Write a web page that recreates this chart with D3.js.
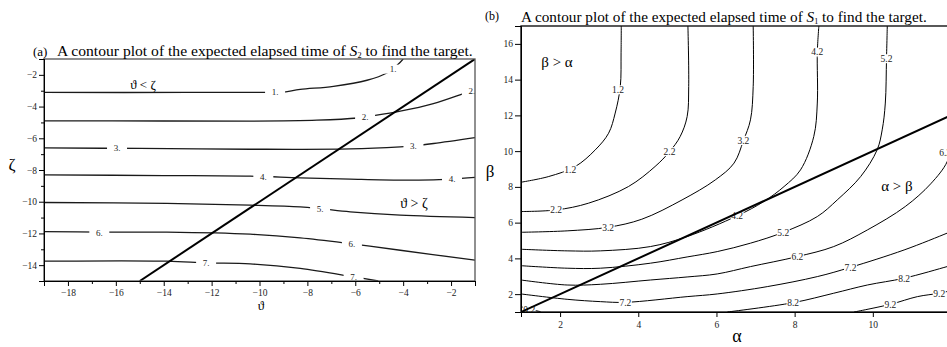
<!DOCTYPE html>
<html>
<head>
<meta charset="utf-8">
<script src="https://cdn.jsdelivr.net/npm/d3@7"></script>
<style>
  body { margin: 0; background: #fff; }
  svg { font-family: "Liberation Serif", "Times New Roman", serif; }
</style>
</head>
<body>
<div id="chart"></div>
<script>
// ---- panel (a): theta / zeta, contour levels of S2 ----
const aLevels = ['1.', '2.', '3.', '4.', '5.', '6.', '7.'];
const aLine1 = [[-19, -3.11], [-13, -3.11], [-9.69, -3.10], [-9.07, -3.09], [-8.30, -2.92], [-6.91, -2.72], [-5.51, -2.34], [-4.68, -1.88], [-4.21, -1.33], [-4.0, -1.0]];
const aLine2 = [[-19, -4.90], [-14, -4.91], [-10.39, -4.92], [-7.60, -4.86], [-5.90, -4.72], [-5.25, -4.58], [-4.12, -4.29], [-2.74, -3.81], [-1.49, -3.18], [-1.0, -2.92]];
const aLine3 = [[-19, -6.61], [-15, -6.64], [-10.39, -6.69], [-6.21, -6.67], [-4.12, -6.54], [-3.57, -6.48], [-2.73, -6.33], [-1.0, -5.96]];
const aLine4 = [[-19, -8.31], [-14, -8.35], [-10.39, -8.39], [-8.30, -8.50], [-6.21, -8.58], [-4.12, -8.64], [-2.73, -8.62], [-1.96, -8.58], [-1.0, -8.47]];
const aLine5 = [[-19, -10.05], [-13.87, -10.11], [-10.39, -10.22], [-8.30, -10.33], [-7.47, -10.44], [-6.21, -10.64], [-4.12, -10.85], [-1.0, -11.0]];
const aLine6 = [[-19, -11.88], [-16.69, -11.92], [-13.87, -11.92], [-10.39, -12.05], [-8.30, -12.28], [-6.14, -12.66], [-4.12, -13.06], [-1.0, -13.69]];
const aLine7 = [[-19, -13.75], [-13.87, -13.75], [-12.23, -13.86], [-10.39, -13.92], [-8.30, -14.21], [-6.07, -14.74], [-5.04, -15.0]];
const aLines = [aLine1, aLine2, aLine3, aLine4, aLine5, aLine6, aLine7];
// [level index, theta, zeta]
const aLabels = [[0, -9.35, -3.10], [0, -4.42, -1.64], [1, -5.59, -4.67], [1, -1.13, -3.01],
  [2, -15.95, -6.62], [2, -3.57, -6.48], [3, -9.84, -8.43], [3, -1.96, -8.58],
  [4, -7.47, -10.44], [5, -16.69, -11.96], [5, -6.14, -12.66], [6, -12.23, -13.86], [6, -6.07, -14.74]];
const aXTicks = [-18, -16, -14, -12, -10, -8, -6, -4, -2];
const aXMinor = [-19, -17, -15, -13, -11, -9, -7, -5, -3, -1];
const aYTicks = [-2, -4, -6, -8, -10, -12, -14];
const aYMinor = [-1, -3, -5, -7, -9, -11, -13, -15];
const aDiagonal = [[-15, -15], [-1, -1]];

// ---- panel (b): alpha / beta, contour levels of S1 ----
const bLevels = ['1.2', '2.2', '3.2', '4.2', '5.2', '6.2', '7.2', '8.2', '9.2', '0.2'];
const bLine1 = [[3.565, 17], [3.56, 15.5], [3.54, 13.61], [3.41, 12.13], [3.24, 11.0], [2.90, 10.07], [2.39, 9.14], [1.71, 8.58], [1.0, 8.26]];
const bLine2 = [[5.27, 17], [5.29, 13.61], [5.25, 11.93], [5.07, 10.81], [4.80, 9.97], [4.43, 9.14], [3.75, 8.02], [2.73, 7.09], [1.90, 6.71], [1.0, 6.62]];
const bLine3 = [[6.94, 17], [6.94, 13.61], [6.87, 11.75], [6.69, 10.59], [6.45, 9.33], [5.97, 8.39], [5.12, 7.27], [4.09, 6.19], [3.23, 5.74], [2.18, 5.54], [1.0, 5.46]];
const bLine4 = [[8.62, 17], [8.58, 15.54], [8.58, 12.69], [8.49, 10.82], [8.15, 8.95], [7.73, 8.02], [7.21, 7.18], [6.53, 6.38], [5.25, 5.22], [4.31, 4.66], [3.03, 4.42], [2.18, 4.42], [1.0, 4.51]];
const bLine5 = [[10.37, 17], [10.35, 15.17], [10.32, 12.69], [10.24, 11.19], [10.11, 10.07], [9.69, 8.58], [9.09, 7.27], [8.58, 6.34], [7.71, 5.46], [6.87, 4.85], [6.02, 4.38], [5.25, 4.08], [4.31, 3.73], [3.03, 3.45], [2.18, 3.45], [1.0, 3.59]];
const bLine6 = [[12.0, 10.4], [11.90, 9.40], [11.48, 8.17], [10.83, 6.90], [9.86, 5.59], [9.0, 4.66], [8.07, 4.10], [6.87, 3.54], [6.02, 3.13], [5.25, 2.96], [4.31, 2.79], [3.03, 2.55], [2.18, 2.51], [1.0, 2.79]];
const bLine7 = [[12.0, 5.5], [11.90, 5.41], [10.80, 4.47], [9.43, 3.50], [8.58, 2.98], [7.30, 2.42], [6.02, 2.01], [5.25, 1.86], [3.67, 1.54], [3.03, 1.58], [2.18, 1.71], [1.0, 2.01]];
const bLine8 = [[6.28, 1.0], [7.96, 1.52], [9.0, 2.05], [9.86, 2.51], [10.80, 2.89], [11.90, 3.54], [12.0, 3.6]];
const bLine9 = [[9.52, 1.0], [10.45, 1.43], [11.14, 1.86], [11.70, 2.05], [12.0, 2.2]];
const bLine0 = [[1.0, 1.30], [1.25, 1.14], [1.5, 1.02]];
const bLines = [bLine1, bLine2, bLine3, bLine4, bLine5, bLine6, bLine7, bLine8, bLine9, bLine0];
// [level index, alpha, beta]
const bLabels = [[0, 3.48, 13.43], [0, 2.26, 8.95], [1, 4.80, 9.97], [1, 1.90, 6.71],
  [2, 6.69, 10.59], [2, 3.23, 5.74], [3, 8.58, 15.54], [3, 6.53, 6.38],
  [4, 10.35, 15.17], [4, 7.71, 5.46], [5, 11.85, 9.89], [5, 8.07, 4.10],
  [6, 3.67, 1.54], [6, 9.43, 3.50], [7, 7.96, 1.52], [7, 10.80, 2.89],
  [8, 10.45, 1.43], [8, 11.70, 2.05], [9, 1.21, 1.11]];
const bXTicks = [2, 4, 6, 8, 10];
const bYTicks = [2, 4, 6, 8, 10, 12, 14, 16];
const bDiagonal = [[1, 1], [12, 12]];

const serif = '"Liberation Serif", "Times New Roman", serif';

const svg = d3.select('#chart').append('svg')
    .attr('width', 947)
    .attr('height', 347)
    .attr('font-family', serif);

function drawPanel(cfg) {
  const x = d3.scaleLinear().domain(cfg.xDomain).range([cfg.left, cfg.right]);
  const y = d3.scaleLinear().domain(cfg.yDomain).range([cfg.bottom, cfg.top]);

  svg.append('clipPath').attr('id', cfg.id)
    .append('rect')
      .attr('x', cfg.left).attr('y', cfg.top)
      .attr('width', cfg.right - cfg.left).attr('height', cfg.bottom - cfg.top);

  const line = d3.line()
      .x(d => x(d[0]))
      .y(d => y(d[1]))
      .curve(d3.curveCatmullRom.alpha(0.5));

  const g = svg.append('g').attr('clip-path', `url(#${cfg.id})`);

  g.append('g')
      .attr('fill', 'none')
      .attr('stroke', cfg.lineColor)
      .attr('stroke-width', cfg.lineWidth)
    .selectAll('path')
    .data(cfg.lines)
    .join('path')
      .attr('d', line);

  // contour labels sit in a white gap of the line
  const lab = g.append('g')
    .selectAll('g')
    .data(cfg.labels)
    .join('g')
      .attr('transform', d => `translate(${x(d[1])},${y(d[2])})`);
  lab.append('rect')
      .attr('x', -cfg.gap / 2).attr('y', -4.5)
      .attr('width', cfg.gap).attr('height', 9)
      .attr('fill', '#fff');
  lab.append('text')
      .attr('text-anchor', 'middle')
      .attr('dy', '0.35em')
      .attr('font-family', serif)
      .attr('font-size', cfg.labelSize)
      .attr('fill', '#222')
      .text(d => cfg.levels[d[0]]);

  g.append('path')
      .attr('d', d3.line().x(d => x(d[0])).y(d => y(d[1]))(cfg.diagonal))
      .attr('stroke', '#000')
      .attr('stroke-width', 2)
      .attr('fill', 'none');

  return { x, y };
}

function styleAxis(sel) {
  sel.attr('font-family', serif).attr('font-size', 9.5);
  sel.select('.domain').attr('stroke', '#000');
  sel.selectAll('.tick line').attr('stroke', '#000');
  sel.selectAll('.tick text').attr('fill', '#222');
}

// ---------- panel (a) ----------
const A = { left: 44, right: 475, top: 59, bottom: 281 };
const pa = drawPanel({
  id: 'clipA', xDomain: [-19, -1], yDomain: [-15, -1], ...A,
  lines: aLines, labels: aLabels, levels: aLevels, diagonal: aDiagonal,
  lineColor: '#1a1a1a', lineWidth: 1.3, gap: 20, labelSize: 9
});

svg.append('rect')
    .attr('x', A.left).attr('y', A.top)
    .attr('width', A.right - A.left).attr('height', A.bottom - A.top)
    .attr('fill', 'none').attr('stroke', '#555').attr('stroke-width', 1.3);

svg.append('g')
    .attr('transform', `translate(0,${A.bottom})`)
    .call(d3.axisBottom(pa.x).tickValues(aXMinor).tickSize(3).tickFormat(''))
    .call(styleAxis);
svg.append('g')
    .attr('transform', `translate(0,${A.bottom})`)
    .call(d3.axisBottom(pa.x).tickValues(aXTicks).tickSize(5).tickPadding(3))
    .call(styleAxis);
svg.append('g')
    .attr('transform', `translate(${A.left},0)`)
    .call(d3.axisLeft(pa.y).tickValues(aYMinor).tickSize(3).tickFormat(''))
    .call(styleAxis);
svg.append('g')
    .attr('transform', `translate(${A.left},0)`)
    .call(d3.axisLeft(pa.y).tickValues(aYTicks).tickSize(5).tickPadding(2))
    .call(styleAxis);

// ---------- panel (b) ----------
const B = { left: 521, right: 951, top: 26, bottom: 312 };
const pb = drawPanel({
  id: 'clipB', xDomain: [1, 12], yDomain: [1, 17], ...B,
  lines: bLines, labels: bLabels, levels: bLevels, diagonal: bDiagonal,
  lineColor: '#000', lineWidth: 1, gap: 13, labelSize: 9.5
});

svg.append('rect')
    .attr('x', B.left).attr('y', B.top)
    .attr('width', B.right - B.left).attr('height', B.bottom - B.top)
    .attr('fill', 'none').attr('stroke', '#000').attr('stroke-width', 1.3);

svg.append('g')
    .attr('transform', `translate(0,${B.bottom})`)
    .call(d3.axisBottom(pb.x).tickValues(bXTicks).tickSize(5).tickPadding(4))
    .call(styleAxis);
svg.append('g')
    .attr('transform', `translate(${B.left},0)`)
    .call(d3.axisLeft(pb.y).tickValues(bYTicks).tickSize(6).tickPadding(2))
    .call(styleAxis);

// ---------- texts ----------
function title(px, py, sub, width) {
  const t = svg.append('text')
      .attr('x', px).attr('y', py)
      .attr('font-size', 15)
      .attr('fill', '#000');
  t.append('tspan').text('A contour plot of the expected elapsed time of ');
  t.append('tspan').attr('font-style', 'italic').text('S');
  const s = t.append('tspan').attr('font-size', 8).attr('dy', 2).text(sub);
  t.append('tspan').attr('dy', -2).text(' to find the target.');
  const len = t.node().getComputedTextLength();
  t.attr('font-size', 15 * width / len);
  s.attr('font-size', 8 * width / len);
}

svg.append('text').attr('x', 33).attr('y', 56).attr('font-size', 13).text('(a)');
title(57, 56, '2', 416);
svg.append('text').attr('x', 485).attr('y', 20).attr('font-size', 12).text('(b)');
title(521, 22, '1', 406);

const txt = (s, px, py, size) => svg.append('text')
    .attr('x', px).attr('y', py)
    .attr('text-anchor', 'middle')
    .attr('font-size', size)
    .text(s);

txt('ϑ < ζ', 143, 89, 13);
txt('ϑ > ζ', 414, 208, 14);
txt('β > α', 557, 67, 15);
txt('α > β', 897, 191, 15);

txt('ζ', 12, 170, 17);
txt('ϑ', 261, 310, 13);
txt('β', 490, 177, 17);
txt('α', 737, 342, 18);
</script>
</body>
</html>
